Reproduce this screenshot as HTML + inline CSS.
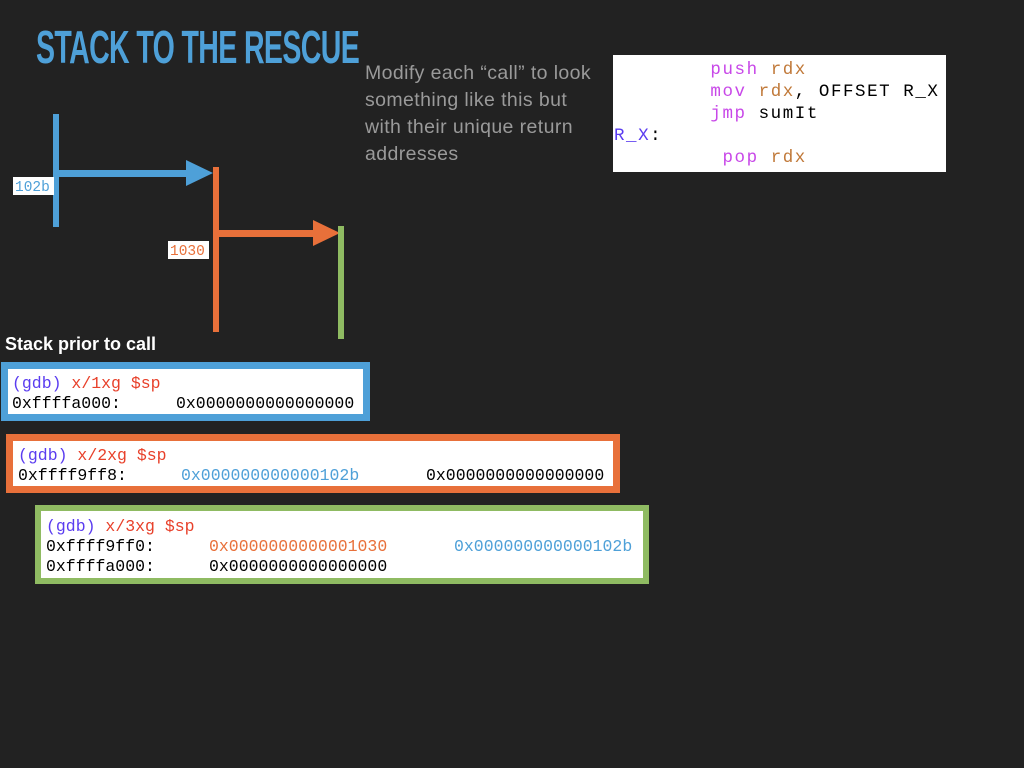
<!DOCTYPE html>
<html><head><meta charset="utf-8"><style>
body{margin:0;width:1024px;height:768px;background:#222;position:relative;overflow:hidden;font-family:"Liberation Sans",sans-serif}
.a{position:absolute}
.m{font-family:"Liberation Mono",monospace;font-size:16.5px;white-space:pre;line-height:20px}
.box{position:absolute;background:#fff;box-sizing:border-box}
.p{color:#5a3cf0}.r{color:#e8402a}.o{color:#e8703a}.b{color:#4ea0d8}.k{color:#000}
.c{font-family:"Liberation Mono",monospace;font-size:17.5px;letter-spacing:1.55px;white-space:pre;line-height:22px}
.mg{color:#c848e8}.br{color:#c07838}
</style></head><body>
<div class="a" style="left:36px;top:24px;font-weight:bold;font-size:46px;line-height:46px;color:#4ea0d8;letter-spacing:-1px;transform:scaleX(0.62);transform-origin:0 0;white-space:nowrap">STACK TO THE RESCUE</div>
<div class="a" style="left:365px;top:60px;color:#9a9a9a;font-size:19.5px;letter-spacing:0.4px;line-height:27px;width:240px">Modify each “call” to look something like this but with their unique return addresses</div>
<div class="box" style="left:613px;top:55px;width:333px;height:117px"></div>
<div class="a c" style="left:614px;top:59px"><span class="mg">        push</span> <span class="br">rdx</span>
<span class="mg">        mov</span> <span class="br">rdx</span>, OFFSET R_X
<span class="mg">        jmp</span> sumIt
<span class="p">R_X</span>:
<span class="mg">         pop</span> <span class="br">rdx</span></div>
<svg class="a" style="left:0;top:0" width="400" height="345">
<rect x="53" y="114" width="6" height="113" fill="#4ea0d8"/>
<rect x="58" y="170" width="132" height="7" fill="#4ea0d8"/>
<polygon points="186,160 213,173 186,186" fill="#4ea0d8"/>
<rect x="213" y="167" width="6" height="165" fill="#e8703a"/>
<rect x="219" y="230" width="98" height="7" fill="#e8703a"/>
<polygon points="313,220 340,233 313,246" fill="#e8703a"/>
<rect x="338" y="226" width="6" height="113" fill="#8fbb62"/>
<rect x="13" y="177" width="41" height="18" fill="#fff"/>
<text x="15" y="191" font-family="Liberation Mono" font-size="14.5" fill="#4ea0d8">102b</text>
<rect x="168" y="241" width="41" height="18" fill="#fff"/>
<text x="170" y="255" font-family="Liberation Mono" font-size="14.5" fill="#e8703a">1030</text>
</svg>
<div class="a" style="left:5px;top:334px;color:#fff;font-size:18px;font-weight:bold">Stack prior to call</div>
<div class="box" style="left:1px;top:362px;width:369px;height:59px;border:7px solid #4ea0d8"></div>
<div class="a m" style="left:12px;top:374px"><span class="p">(gdb)</span> <span class="r">x/1xg $sp</span>
0xffffa000:</div>
<div class="a m" style="left:176px;top:394px">0x0000000000000000</div>
<div class="box" style="left:6px;top:434px;width:614px;height:59px;border:7px solid #e8703a"></div>
<div class="a m" style="left:18px;top:446px"><span class="p">(gdb)</span> <span class="r">x/2xg $sp</span>
0xffff9ff8:</div>
<div class="a m b" style="left:181px;top:466px">0x000000000000102b</div>
<div class="a m" style="left:426px;top:466px">0x0000000000000000</div>
<div class="box" style="left:35px;top:505px;width:614px;height:79px;border:6px solid #8fbb62"></div>
<div class="a m" style="left:46px;top:517px"><span class="p">(gdb)</span> <span class="r">x/3xg $sp</span>
0xffff9ff0:
0xffffa000:</div>
<div class="a m o" style="left:209px;top:537px">0x0000000000001030</div>
<div class="a m b" style="left:454px;top:537px">0x000000000000102b</div>
<div class="a m" style="left:209px;top:557px">0x0000000000000000</div>
</body></html>
